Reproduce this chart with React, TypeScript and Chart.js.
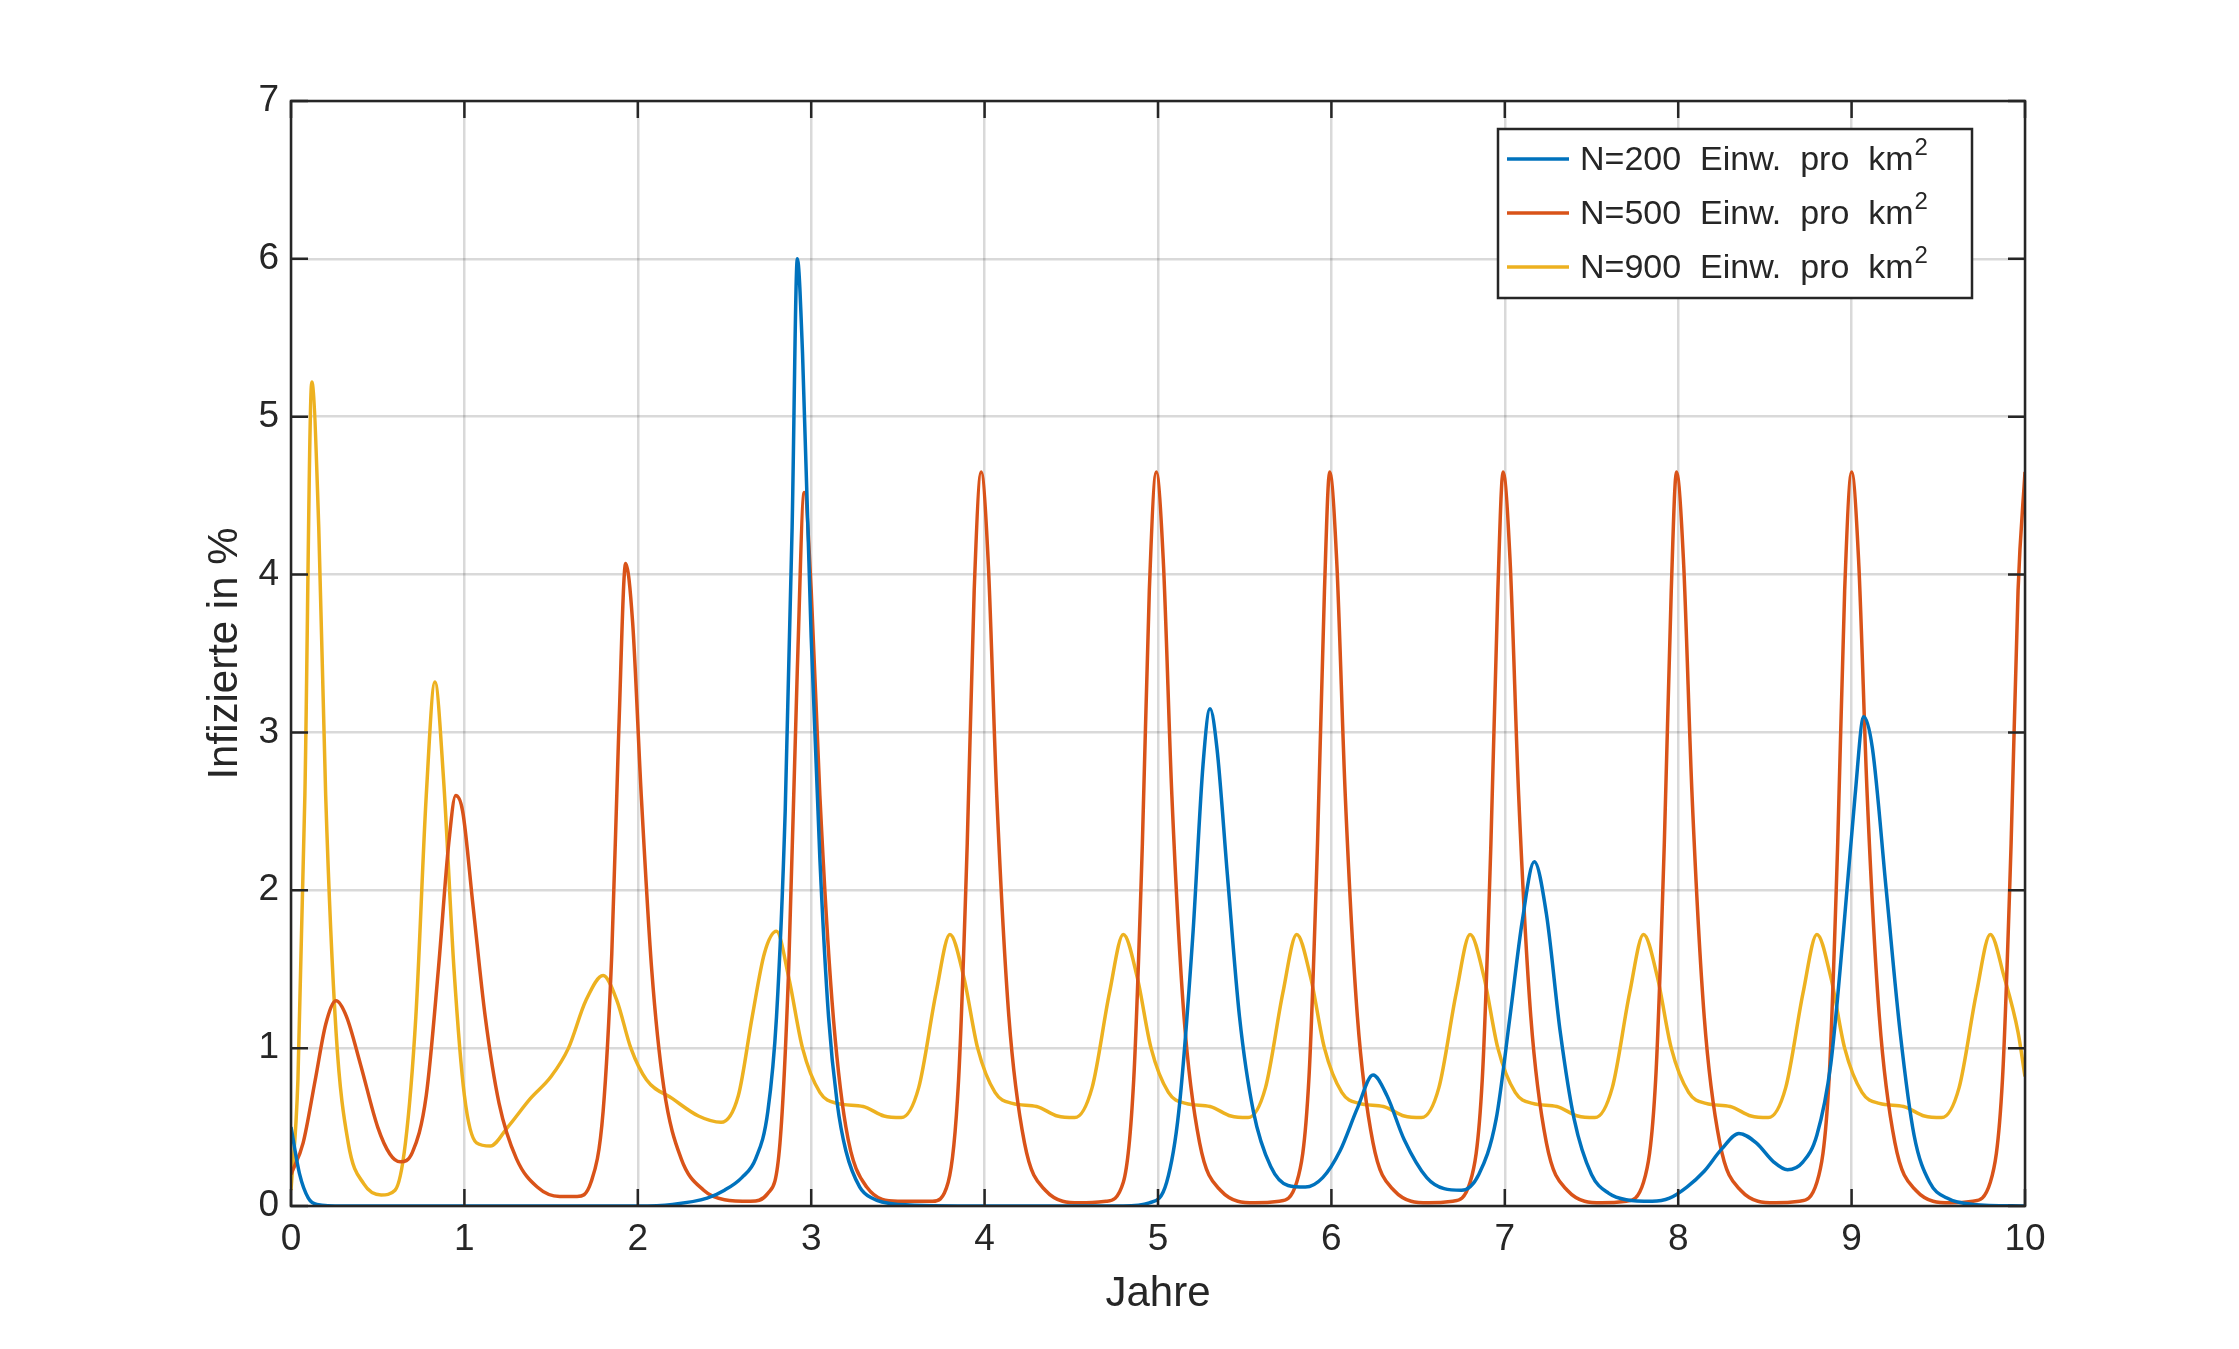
import React, { useEffect, useRef } from "react";
import { Chart, registerables } from "chart.js";
Chart.register(...registerables);

const xTicks = [0, 1, 2, 3, 4, 5, 6, 7, 8, 9, 10];
const yTicks = [0, 1, 2, 3, 4, 5, 6, 7];
const seriesLabels = ["N=200  Einw.  pro  km", "N=500  Einw.  pro  km", "N=900  Einw.  pro  km"];
const colors = ["#0072BD", "#D95319", "#EDB120"];
const xTitle = "Jahre";
const yTitle = "Infizierte in %";

const blueT = [0, 0.05, 0.1, 0.15, 0.3, 1, 2, 2.2, 2.4, 2.5, 2.6, 2.68, 2.75, 2.8, 2.85, 2.89, 2.92, 2.95, 3.0, 3.05, 3.1, 3.15, 3.2, 3.28, 3.35, 3.5, 4, 4.8, 4.95, 5.05, 5.12, 5.2, 5.26, 5.3, 5.34, 5.4, 5.47, 5.55, 5.65, 5.75, 5.85, 5.95, 6.05, 6.15, 6.24, 6.32, 6.42, 6.55, 6.65, 6.75, 6.85, 6.95, 7.03, 7.1, 7.17, 7.24, 7.32, 7.4, 7.5, 7.6, 7.7, 7.85, 7.95, 8.05, 8.15, 8.25, 8.35, 8.45, 8.55, 8.63, 8.72, 8.8, 8.88, 8.95, 9.02, 9.07, 9.12, 9.2, 9.28, 9.36, 9.45, 9.55, 9.7, 10];
const blueY = [0.5, 0.2, 0.05, 0.01, 0, 0, 0, 0.01, 0.05, 0.1, 0.18, 0.3, 0.6, 1.2, 2.5, 4.3, 6.0, 5.4, 3.6, 2.2, 1.2, 0.65, 0.35, 0.12, 0.05, 0.01, 0, 0, 0.02, 0.15, 0.6, 1.7, 2.8, 3.15, 2.9, 2.1, 1.2, 0.6, 0.25, 0.13, 0.12, 0.18, 0.35, 0.62, 0.83, 0.7, 0.42, 0.18, 0.11, 0.1, 0.2, 0.55, 1.2, 1.8, 2.18, 1.85, 1.1, 0.55, 0.2, 0.08, 0.04, 0.03, 0.05, 0.12, 0.22, 0.36, 0.46, 0.4, 0.28, 0.23, 0.28, 0.45, 0.9, 1.7, 2.6, 3.1, 2.9, 2.0, 1.1, 0.45, 0.15, 0.05, 0.01, 0];

const orangeT = [0, 0.07, 0.14, 0.2, 0.26, 0.32, 0.4, 0.5, 0.57, 0.63, 0.7, 0.78, 0.85, 0.91, 0.95, 0.99, 1.05, 1.12, 1.2, 1.3, 1.42, 1.55, 1.65, 1.73, 1.8, 1.85, 1.89, 1.93, 1.97, 2.02, 2.08, 2.15, 2.25, 2.38, 2.5, 2.65, 2.75, 2.82, 2.87, 2.92, 2.96, 3.0, 3.05, 3.12, 3.2, 3.32, 3.5, 3.7, 3.79, 3.85, 3.9, 3.94, 3.98, 4.02, 4.07, 4.14, 4.23, 4.35, 4.55, 4.7, 4.8, 4.86, 4.91, 4.95, 4.99, 5.03, 5.08, 5.15, 5.24, 5.36, 5.56, 5.7, 5.8, 5.87, 5.92, 5.96, 5.99, 6.03, 6.08, 6.15, 6.24, 6.36, 6.56, 6.7, 6.8, 6.87, 6.92, 6.96, 6.99, 7.03, 7.08, 7.15, 7.24, 7.36, 7.56, 7.7, 7.8, 7.87, 7.92, 7.96, 7.99, 8.03, 8.08, 8.15, 8.24, 8.36, 8.56, 8.7, 8.8, 8.87, 8.92, 8.96, 9.0, 9.04, 9.09, 9.16, 9.25, 9.37, 9.57, 9.7, 9.8, 9.87, 9.92, 9.96, 10];
const orangeY = [0.2, 0.4, 0.8, 1.15, 1.3, 1.2, 0.9, 0.5, 0.33, 0.28, 0.34, 0.7, 1.5, 2.3, 2.6, 2.5, 1.9, 1.2, 0.65, 0.3, 0.12, 0.06, 0.06, 0.15, 0.6, 1.6, 3.0, 4.07, 3.7, 2.6, 1.5, 0.75, 0.3, 0.1, 0.04, 0.03, 0.08, 0.4, 1.5, 3.4, 4.52, 3.9, 2.6, 1.3, 0.5, 0.12, 0.03, 0.03, 0.15, 0.8, 2.3, 3.9, 4.65, 4.1, 2.6, 1.2, 0.4, 0.1, 0.02, 0.03, 0.15, 0.8, 2.3, 3.9, 4.65, 4.1, 2.6, 1.2, 0.4, 0.1, 0.02, 0.03, 0.15, 0.8, 2.3, 3.9, 4.65, 4.1, 2.6, 1.2, 0.4, 0.1, 0.02, 0.03, 0.15, 0.8, 2.3, 3.9, 4.65, 4.1, 2.6, 1.2, 0.4, 0.1, 0.02, 0.03, 0.15, 0.8, 2.3, 3.9, 4.65, 4.1, 2.6, 1.2, 0.4, 0.1, 0.02, 0.03, 0.15, 0.8, 2.3, 3.9, 4.65, 4.1, 2.6, 1.2, 0.4, 0.1, 0.02, 0.03, 0.15, 0.8, 2.3, 3.9, 4.65];

const yellowT = [0, 0.04, 0.08, 0.12, 0.16, 0.2, 0.26, 0.33, 0.42, 0.52, 0.6, 0.66, 0.72, 0.78, 0.83, 0.88, 0.94, 1.0, 1.07, 1.15, 1.25, 1.38, 1.5, 1.6, 1.7, 1.8, 1.88, 1.96, 2.05, 2.2, 2.35, 2.48, 2.58, 2.66, 2.73, 2.8, 2.87, 2.95, 3.05, 3.15, 3.3, 3.42, 3.52, 3.62, 3.72, 3.8, 3.88, 3.96, 4.06, 4.16, 4.3, 4.42, 4.52, 4.62, 4.72, 4.8, 4.88, 4.96, 5.06, 5.16, 5.3, 5.42, 5.52, 5.62, 5.72, 5.8, 5.88, 5.96, 6.06, 6.16, 6.3, 6.42, 6.52, 6.62, 6.72, 6.8, 6.88, 6.96, 7.06, 7.16, 7.3, 7.42, 7.52, 7.62, 7.72, 7.8, 7.88, 7.96, 8.06, 8.16, 8.3, 8.42, 8.52, 8.62, 8.72, 8.8, 8.88, 8.96, 9.06, 9.16, 9.3, 9.42, 9.52, 9.62, 9.72, 9.8, 9.88, 9.96, 10];
const yellowY = [0.1, 0.8, 2.6, 5.22, 4.3, 2.6, 1.1, 0.4, 0.14, 0.07, 0.1, 0.4, 1.2, 2.6, 3.32, 2.7, 1.5, 0.7, 0.4, 0.38, 0.5, 0.68, 0.82, 1.0, 1.3, 1.46, 1.3, 1.0, 0.8, 0.68, 0.57, 0.53, 0.7, 1.2, 1.6, 1.74, 1.45, 1.0, 0.72, 0.65, 0.63, 0.57, 0.56, 0.75, 1.35, 1.72, 1.45, 1.0, 0.72, 0.65, 0.63, 0.57, 0.56, 0.75, 1.35, 1.72, 1.45, 1.0, 0.72, 0.65, 0.63, 0.57, 0.56, 0.75, 1.35, 1.72, 1.45, 1.0, 0.72, 0.65, 0.63, 0.57, 0.56, 0.75, 1.35, 1.72, 1.45, 1.0, 0.72, 0.65, 0.63, 0.57, 0.56, 0.75, 1.35, 1.72, 1.45, 1.0, 0.72, 0.65, 0.63, 0.57, 0.56, 0.75, 1.35, 1.72, 1.45, 1.0, 0.72, 0.65, 0.63, 0.57, 0.56, 0.75, 1.35, 1.72, 1.45, 1.1, 0.82];

const toPts = (t: number[], y: number[]) => t.map((v, i) => ({ x: v, y: y[i] }));

const FONT = "Liberation Sans, Arial, sans-serif";
const INK = "#262626";

const framePlugin = {
  id: "frame",
  afterDatasetsDraw(chart: any) {
    const { ctx, chartArea: a, scales } = chart;
    ctx.save();
    ctx.strokeStyle = INK;
    ctx.lineWidth = 2.5;
    const L = 17;
    ctx.beginPath();
    xTicks.forEach((v) => {
      const px = scales.x.getPixelForValue(v);
      ctx.moveTo(px, a.bottom); ctx.lineTo(px, a.bottom - L);
      ctx.moveTo(px, a.top); ctx.lineTo(px, a.top + L);
    });
    yTicks.forEach((v) => {
      const py = scales.y.getPixelForValue(v);
      ctx.moveTo(a.left, py); ctx.lineTo(a.left + L, py);
      ctx.moveTo(a.right, py); ctx.lineTo(a.right - L, py);
    });
    ctx.stroke();
    ctx.strokeRect(a.left, a.top, a.right - a.left, a.bottom - a.top);
    // axis titles
    ctx.fillStyle = INK;
    ctx.font = `42px ${FONT}`;
    ctx.textAlign = "center";
    ctx.textBaseline = "middle";
    ctx.fillText(xTitle, (a.left + a.right) / 2, a.bottom + 88);
    ctx.save();
    ctx.translate(a.left - 66, (a.top + a.bottom) / 2);
    ctx.rotate(-Math.PI / 2);
    ctx.fillText(yTitle, 0, 0);
    ctx.restore();
    // legend
    const w = 474, h = 169;
    const bx = a.right - 53 - w, by = a.top + 28;
    ctx.fillStyle = "#fff";
    ctx.fillRect(bx, by, w, h);
    ctx.strokeRect(bx, by, w, h);
    ctx.textAlign = "left";
    seriesLabels.forEach((lab, i) => {
      const y = by + 30 + i * 54;
      ctx.strokeStyle = colors[i];
      ctx.lineWidth = 3.5;
      ctx.beginPath(); ctx.moveTo(bx + 9, y); ctx.lineTo(bx + 71, y); ctx.stroke();
      ctx.fillStyle = INK;
      ctx.font = `34px ${FONT}`;
      ctx.fillText(lab, bx + 82, y + 2);
      const tw = ctx.measureText(lab).width;
      ctx.font = `24px ${FONT}`;
      ctx.fillText("2", bx + 83 + tw, y - 11);
    });
    ctx.restore();
  },
};

export default function App() {
  const ref = useRef<HTMLCanvasElement>(null);
  useEffect(() => {
    const series = [toPts(blueT, blueY), toPts(orangeT, orangeY), toPts(yellowT, yellowY)];
    const chart = new Chart(ref.current!, {
      type: "line",
      data: {
        datasets: series.map((d, i) => ({
          label: seriesLabels[i], data: d, borderColor: colors[i], borderWidth: 3.5,
          pointRadius: 0, cubicInterpolationMode: "monotone" as const, fill: false,
        })),
      },
      options: {
        animation: false, responsive: false, maintainAspectRatio: false,
        layout: { padding: { top: 101, right: 214, left: 0, bottom: 0 } },
        plugins: { legend: { display: false }, tooltip: { enabled: false } },
        scales: {
          x: {
            type: "linear", min: 0, max: 10,
            afterFit: (s: any) => { s.height = 143; },
            afterBuildTicks: (s: any) => { s.ticks = xTicks.map((v) => ({ value: v })); },
            grid: { color: "rgba(0,0,0,0.15)", lineWidth: 2.5, drawTicks: false },
            border: { display: false },
            ticks: { color: INK, font: { size: 37, family: FONT }, padding: 12 },
          },
          y: {
            type: "linear", min: 0, max: 7,
            afterFit: (s: any) => { s.width = 291; },
            afterBuildTicks: (s: any) => { s.ticks = yTicks.map((v) => ({ value: v })); },
            grid: { color: "rgba(0,0,0,0.15)", lineWidth: 2.5, drawTicks: false },
            border: { display: false },
            ticks: { color: INK, font: { size: 37, family: FONT }, padding: 12 },
          },
        },
      },
      plugins: [framePlugin],
    });
    return () => chart.destroy();
  }, []);
  return (
    <div style={{ position: "fixed", left: 0, top: 0, width: 2239, height: 1349, background: "#fff" }}>
      <canvas ref={ref} width={2239} height={1349} style={{ width: 2239, height: 1349 }} />
    </div>
  );
}
